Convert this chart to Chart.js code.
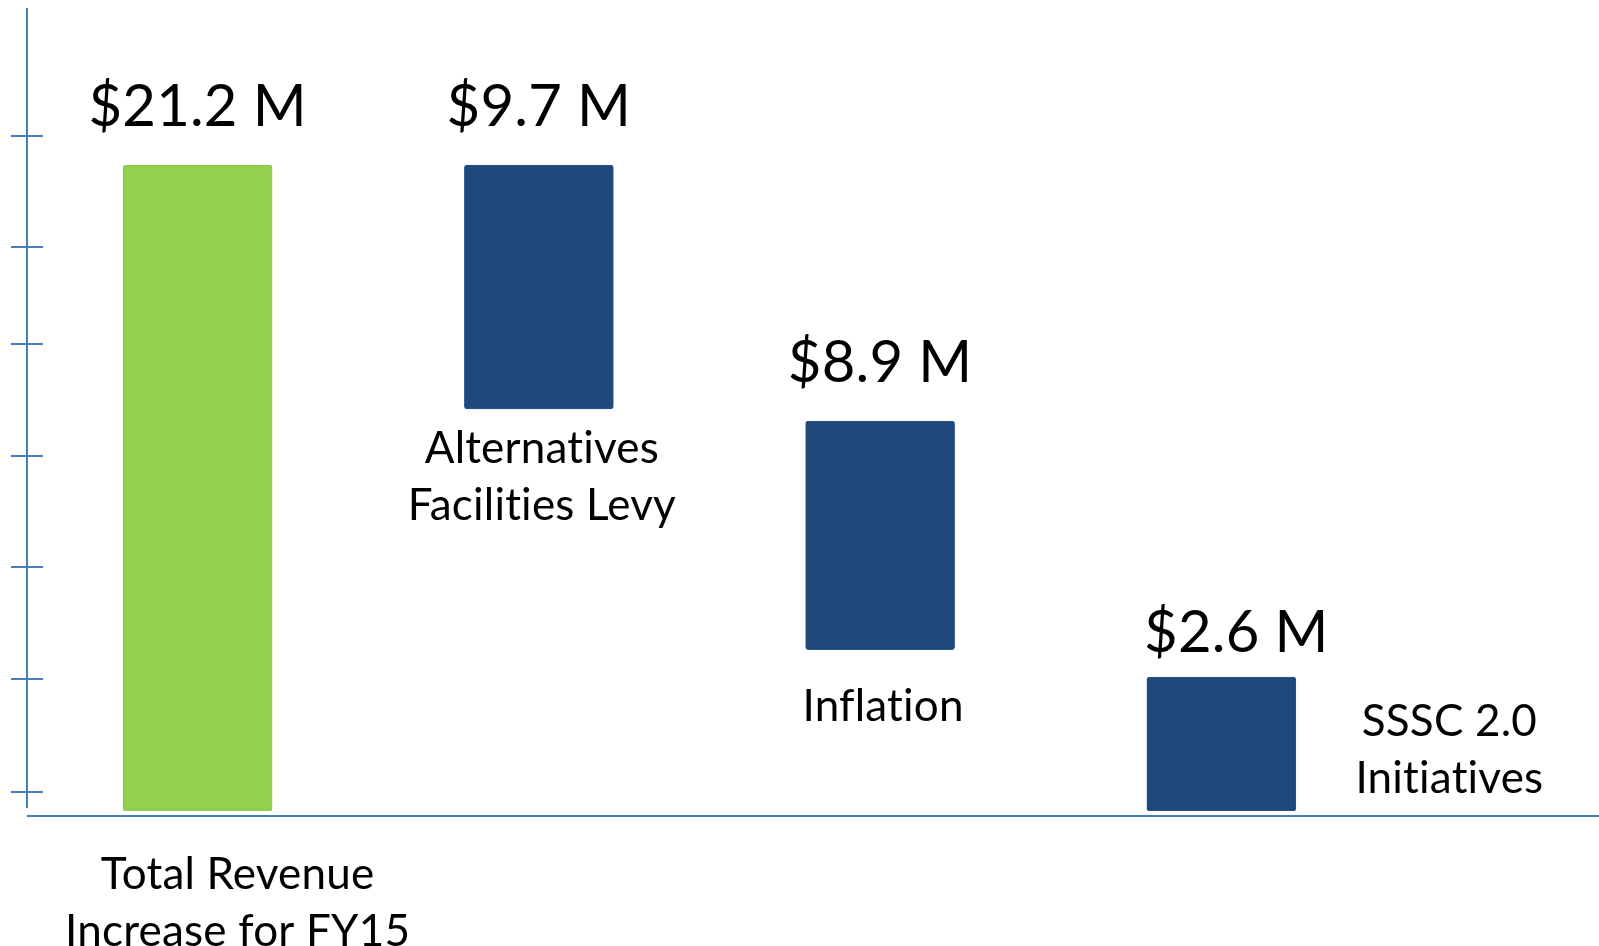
<!DOCTYPE html>
<html>
<head>
<meta charset="utf-8">
<title>FY15 Revenue Increase</title>
<script src="https://cdn.jsdelivr.net/npm/chart.js@4/dist/chart.umd.min.js"></script>
<style>
    html, body { margin: 0; padding: 0; background: #ffffff; }
    #chartWrap { width: 1599px; height: 946px; position: relative; }
</style>
</head>
<body>
<div id="chartWrap"><canvas id="revenueChart"></canvas></div>
<script>
// Chart data
const categories = ['Total Revenue Increase for FY15', 'Alternatives Facilities Levy', 'Inflation', 'SSSC 2.0 Initiatives'];
const labelLines = [['Total Revenue', 'Increase for FY15'], ['Alternatives', 'Facilities Levy'], ['Inflation'], ['SSSC 2.0', 'Initiatives']];
const amountLabels = ['$21.2 M', '$9.7 M', '$8.9 M', '$2.6 M'];
const barLow = [0, 13.2, 5.3, 0];
const barHigh = [21.2, 21.2, 12.8, 4.4];
const tickValues = [0.63, 4.32, 8.0, 11.66, 15.34, 18.52, 22.17];
const labelPlacement = ['belowAxis', 'belowBar', 'belowBar', 'rightOfBar'];

const GREEN = '#92D050';
const NAVY = '#1F497D';
const AXIS_BLUE = '#4A7EBB';
const FONT = 'Lato, "Open Sans", sans-serif';

// Draws the axes and all the text labels
const waterfallLabels = {
    id: 'waterfallLabels',
    afterDatasetsDraw(chart) {
        const ctx = chart.ctx;
        const yScale = chart.scales.y;
        const area = chart.chartArea;
        const zeroY = yScale.getPixelForValue(0);
        const bars = chart.getDatasetMeta(0).data;

        ctx.save();

        // vertical axis with ticks crossing it
        ctx.strokeStyle = AXIS_BLUE;
        ctx.lineWidth = 2;
        ctx.beginPath();
        ctx.moveTo(area.left, area.top);
        ctx.lineTo(area.left, zeroY - 3);
        tickValues.forEach(v => {
            const ty = Math.round(yScale.getPixelForValue(v));
            ctx.moveTo(area.left - 16, ty);
            ctx.lineTo(area.left + 16, ty);
        });
        ctx.stroke();

        // horizontal axis line runs to the right edge
        const axisY = Math.round(zeroY + 5);
        ctx.beginPath();
        ctx.moveTo(area.left, axisY);
        ctx.lineTo(chart.width, axisY);
        ctx.stroke();

        ctx.fillStyle = '#000000';
        ctx.textAlign = 'center';
        ctx.textBaseline = 'alphabetic';
        // a tiny letter spacing keeps Lato from joining "ti" into a ligature
        if ('letterSpacing' in ctx) ctx.letterSpacing = '0.2px';

        bars.forEach((bar, i) => {
            const props = bar.getProps(['x', 'y', 'base', 'width'], true);
            const top = Math.min(props.y, props.base);
            const bottom = Math.max(props.y, props.base);

            // amount above each bar
            ctx.font = '58px ' + FONT;
            if (labelPlacement[i] === 'rightOfBar') {
                ctx.fillText(amountLabels[i], props.x + 15, top - 25);
            } else {
                ctx.fillText(amountLabels[i], props.x, top - 39);
            }

            // category name
            ctx.font = '44px ' + FONT;
            let x = props.x + 3;
            let y = bottom + 54;
            if (labelPlacement[i] === 'belowAxis') {
                x = props.x + 40;
                y = axisY + 73;
            } else if (labelPlacement[i] === 'rightOfBar') {
                x = props.x + 228;
                y = top + 59;
            } else if (labelLines[i].length === 1) {
                y = bottom + 71;
            }
            labelLines[i].forEach((line, j) => {
                ctx.fillText(line, x, y + j * 57);
            });
        });

        ctx.restore();
    }
};

function initializeRevenueChart() {
    const canvas = document.getElementById('revenueChart');
    if (!canvas) return;

    new Chart(canvas, {
        type: 'bar',
        data: {
            labels: categories,
            datasets: [{
                data: barLow.map((lo, i) => [lo, barHigh[i]]),
                backgroundColor: [GREEN, NAVY, NAVY, NAVY],
                borderColor: ['#8CC84B', '#2A5589', '#2A5589', '#2A5589'],
                borderWidth: 1,
                borderRadius: 3,
                borderSkipped: false,
                barThickness: 149
            }]
        },
        options: {
            responsive: true,
            maintainAspectRatio: false,
            animation: false,
            layout: {
                padding: { left: 27, right: 207, top: 8, bottom: 135 }
            },
            scales: {
                x: { display: false },
                y: { display: false, min: 0, max: 26.36 }
            },
            plugins: {
                legend: { display: false },
                tooltip: { enabled: false }
            }
        },
        plugins: [waterfallLabels]
    });
}

document.addEventListener('DOMContentLoaded', initializeRevenueChart);
</script>
</body>
</html>
